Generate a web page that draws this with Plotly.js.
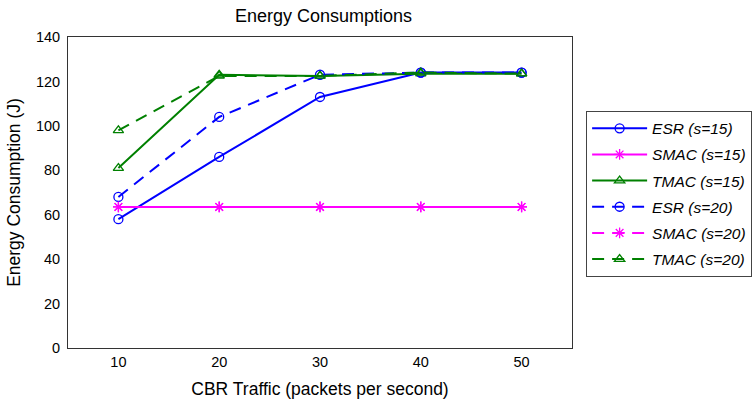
<!DOCTYPE html>
<html><head><meta charset="utf-8">
<script src="https://cdn.plot.ly/plotly-3.0.1.min.js"></script>
<style>body{margin:0;background:#fff}#c{width:753px;height:403px}</style>
</head><body><div id="c"></div>
<script>
var traffic = [10, 20, 30, 40, 50];
var esr15 = [58, 86, 113, 124, 124];
var smac15 = [63.5, 63.5, 63.5, 63.5, 63.5];
var tmac15 = [81, 123, 122.5, 123.5, 123.5];
var esr20 = [68, 104, 123, 124, 124];
var smac20 = [63.5, 63.5, 63.5, 63.5, 63.5];
var tmac20 = [98, 122.5, 122.5, 124, 123.5];
var names = ['ESR (s=15)', 'SMAC (s=15)', 'TMAC (s=15)', 'ESR (s=20)', 'SMAC (s=20)', 'TMAC (s=20)'];

var blue = '#0000ff', mag = '#ff00ff', green = '#008000';
function tr(y, name, color, sym, dash, g) {
  return {x: traffic, y: y, name: name, type: 'scatter', mode: 'lines+markers', legendgroup: g,
    line: {color: color, width: 2, dash: dash},
    marker: {symbol: sym, size: 9, color: color, line: {color: color, width: 1.3}}};
}
var data = [
  tr(esr15, names[0], blue, 'circle-open', 'solid', 'a'),
  tr(smac15, names[1], mag, 'asterisk-open', 'solid', 'b'),
  tr(tmac15, names[2], green, 'triangle-up-open', 'solid', 'c'),
  tr(esr20, names[3], blue, 'circle-open', '12px,8px', 'd'),
  tr(smac20, names[4], mag, 'asterisk-open', '12px,8px', 'e'),
  tr(tmac20, names[5], green, 'triangle-up-open', '12px,8px', 'f')
];
var layout = {
  width: 753, height: 403,
  margin: {l: 68, r: 181, t: 37, b: 55, autoexpand: false},
  paper_bgcolor: '#fff', plot_bgcolor: '#fff',
  font: {family: 'Liberation Sans, Arial, sans-serif', color: '#000', size: 14.5},
  title: {text: 'Energy Consumptions', x: 0.4296, xanchor: 'center', y: 0.96, yanchor: 'middle', font: {size: 18}},
  xaxis: {range: [5, 55], tickvals: traffic, ticks: '', showgrid: false, zeroline: false,
    showline: true, mirror: true, linecolor: '#333', linewidth: 1, ticklabelstandoff: 1,
    title: {text: 'CBR Traffic (packets per second)', font: {size: 17.5}, standoff: 13}},
  yaxis: {range: [0, 140], dtick: 20, ticks: '', showgrid: false, zeroline: false,
    showline: true, mirror: true, linecolor: '#333', linewidth: 1, ticklabelstandoff: 4,
    title: {text: 'Energy Consumption (J)', font: {size: 17.5}, standoff: 10}},
  legend: {x: 1.028, xanchor: 'left', y: 0.763, yanchor: 'top', bordercolor: '#444', borderwidth: 1,
    bgcolor: '#fff', font: {size: 15.5, style: 'italic'}, tracegroupgap: 3, itemwidth: 55}
};
Plotly.newPlot('c', data, layout, {displayModeBar: false});
</script></body></html>
